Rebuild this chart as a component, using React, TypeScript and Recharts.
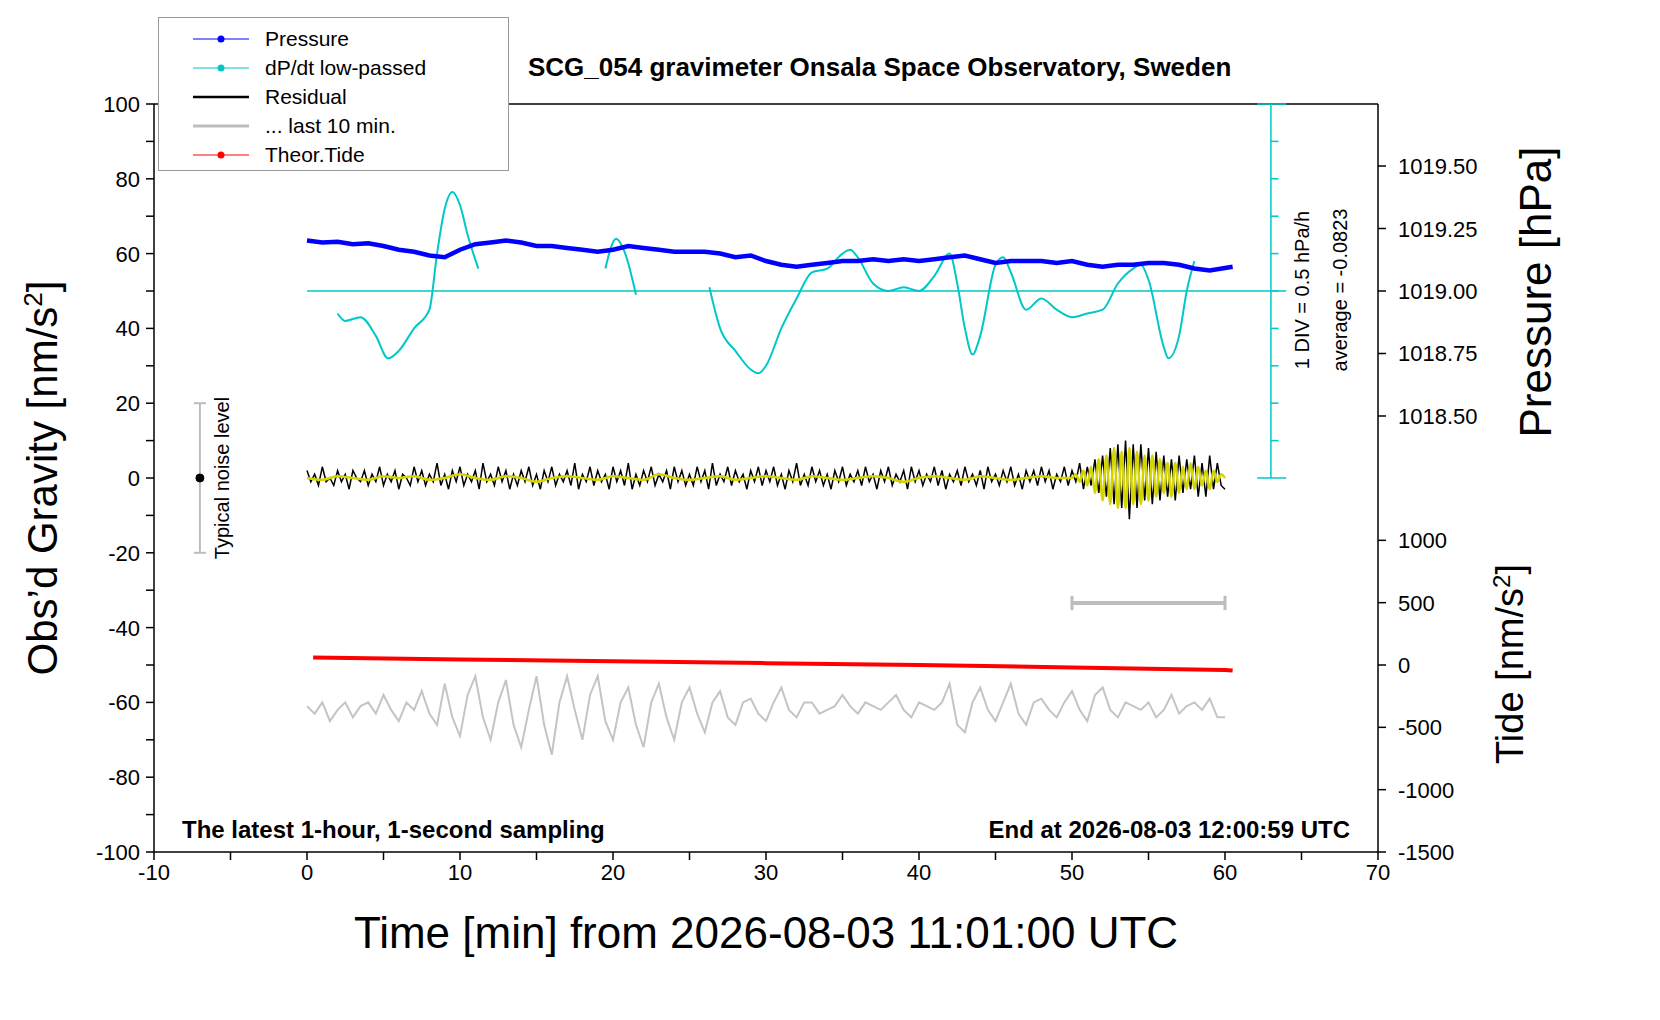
import { ComposedChart, Line, XAxis, YAxis, ReferenceLine } from "recharts";

// time axis / tick labels
const xTicks = [-10, -5, 0, 5, 10, 15, 20, 25, 30, 35, 40, 45, 50, 55, 60, 65, 70];
const gravTicks = [-100, -90, -80, -70, -60, -50, -40, -30, -20, -10, 0, 10, 20, 30, 40, 50, 60, 70, 80, 90, 100];
const pressureTicks = [1018.5, 1018.75, 1019.0, 1019.25, 1019.5];
const tideTicks = [-1500, -1000, -500, 0, 500, 1000];

// pressure [hPa], one reading per minute 0..60
const pressureHpa = [
  1019.202, 1019.194, 1019.197, 1019.187, 1019.191, 1019.18, 1019.165, 1019.157, 1019.142, 1019.135,
  1019.165, 1019.187, 1019.194, 1019.202, 1019.194, 1019.18, 1019.18, 1019.172, 1019.165, 1019.157,
  1019.165, 1019.18, 1019.172, 1019.165, 1019.157, 1019.157, 1019.157, 1019.15, 1019.135, 1019.142,
  1019.12, 1019.105, 1019.097, 1019.105, 1019.112, 1019.12, 1019.12, 1019.127, 1019.12, 1019.127,
  1019.12, 1019.127, 1019.135, 1019.142, 1019.127, 1019.112, 1019.12, 1019.12, 1019.12, 1019.112,
  1019.12, 1019.105, 1019.097, 1019.105, 1019.105, 1019.112, 1019.112, 1019.105, 1019.09, 1019.082,
  1019.097,
];

// dP/dt low-passed, plotted in gravity-axis units (baseline 50, 1 DIV = 10)
const dpdtT = [2, 2.5, 3.5, 4.5, 5.3, 6, 7, 8, 8.5, 9, 9.5, 10, 10.5, 11.2, 11.3,
  19.5, 20.2, 20.8, 21.5, 21.6,
  26.3, 27, 28, 29, 29.5, 30, 31, 32, 33, 34, 35, 35.5, 36, 37, 38, 39, 40, 41, 42, 42.5, 43, 43.5, 44, 45, 45.5, 46, 47, 48, 49, 50, 51, 52, 53, 54, 54.5, 55, 56, 56.3, 57, 57.5, 58];
const dpdtV = [44, 42, 43, 38, 32, 34, 40, 45, 60, 72, 76.5, 73, 65, 56, null,
  56, 64, 60, 49, null,
  51, 40, 34, 29, 28, 30, 40, 48, 55, 56, 60, 61, 59, 52, 50, 51, 50, 54, 60, 52, 40, 33, 38, 57, 59, 55, 45, 48, 45, 43, 44, 45, 52, 56, 57, 53, 35, 32, 38, 50, 58];

// residual [nm/s^2], every 15 s
const residual = [
  2, -1, 1, -2, 3, -1, 0, -2, 2, -1, 1, -3, 2, 0, -1, 2, -2, 1, -1, 3,
  -2, 1, -1, 2, -3, 1, 0, -2, 3, -1, 2, -2, 1, -1, 4, -2, 1, -3, 2, -1,
  3, -2, 1, -1, 2, -3, 4, -1, 1, -2, 3, -1, 2, -3, 1, -2, 2, -1, 3, -2,
  1, -3, 2, -1, 3, -2, 1, -1, 2, -2, 4, -3, 1, -1, 3, -2, 2, -1, 1, -3,
  3, -1, 2, -2, 4, -3, 1, -2, 2, -1, 3, -2, 1, -1, 2, -3, 3, -1, 2, -2,
  1, -2, 3, -1, 2, -3, 4, -2, 1, -1, 3, -2, 2, -1, 1, -3, 2, -1, 3, -2,
  2, -1, 3, -2, 1, -3, 2, -1, 4, -2, 1, -2, 3, -1, 2, -2, 1, -3, 2, -1,
  3, -2, 1, -1, 2, -2, 3, -1, 1, -3, 2, -1, 3, -2, 1, -1, 2, -3, 3, -1,
  2, -2, 1, -1, 3, -2, 2, -3, 1, -1, 2, -2, 3, -1, 1, -2, 2, -3, 3, -1,
  1, -2, 2, -1, 3, -2, 1, -3, 2, -1, 2, -2, 3, -1, 2, -3, 1, -1, 3, -2,
  2, -1, 4, -3, 3, -2, 5, -4, 6, -5, 8, -7, 9, -8, 10, -11, 9, -8, 9, -6,
  8, -7, 7, -6, 6, -5, 5, -6, 6, -4, 5, -3, 6, -5, 4, -5, 6, -3, 4, -2,
  -3,
];

// yellow smoothed residual: per minute 0..49, then every 15 s 50..60
const smoothEarly = [0, -0.5, 0.5, 0, -0.5, 0.5, 0, 0.5, -0.5, 0, 1, 0, -0.5, 0.5, 0, -1, 0, 0.5, 0, -0.5,
  0.5, 0, -0.5, 1, 0, -0.5, 0, 0.5, -0.5, 0, 0.5, 0, -0.5, 0.5, 0, -0.5, 0, 0.5, 0, -1,
  0, 0.5, 0, -0.5, 0.5, 0, -0.5, 0, 0.5, 0];
const smoothLate = [0, 1, -1, 2, -2, 3, -4, 5, -6, 6, -7, 8, -8, 7, -8, 8, -7, 7, -7, 6,
  -6, 6, -5, 5, -4, 4, -5, 4, -4, 3, -3, 4, -3, 3, -2, 2, -3, 2, -1, 1, 0];

// last 10 min of residual, stretched over the hour, every 30 s
const last10 = [
  -61, -63, -60, -65, -62, -60, -64, -61, -60, -63, -58, -62, -65, -60, -62, -57, -63, -66, -55, -64,
  -69, -58, -53, -64, -70, -60, -54, -66, -72, -62, -53, -66, -74, -60, -53, -62, -70, -58, -53, -65,
  -70, -60, -56, -66, -72, -60, -55, -64, -70, -60, -56, -63, -68, -60, -57, -64, -66, -60, -59, -63,
  -65, -60, -56, -62, -64, -60, -60, -63, -62, -61, -58, -61, -63, -60, -61, -62, -60, -58, -62, -64,
  -60, -61, -62, -60, -55, -66, -68, -60, -56, -62, -65, -60, -55, -63, -66, -60, -59, -62, -64, -60,
  -57, -62, -65, -58, -56, -62, -64, -60, -61, -62, -60, -64, -62, -58, -63, -61, -60, -62, -59, -64,
  -64,
];

// theoretical tide [nm/s^2]
const tideT = [0.4, 10, 20, 30, 40, 50, 60, 60.5];
const tideV = [60, 45, 30, 15, 0, -20, -40, -45];

// conversions to the gravity axis
const pToG = (p: number) => 50 + (p - 1019) * 66.84;
const tToG = (t: number) => -50 + t * (200 / 6000);

const pressureData = pressureHpa.map((p, i) => ({ x: i === 60 ? 60.5 : i, y: pToG(p) }));
const dpdtData = dpdtT.map((t, i) => ({ x: t, y: dpdtV[i] }));
const residualData = residual.map((v, i) => ({ x: i * 0.25, y: v }));
const smoothData = [
  ...smoothEarly.map((v, i) => ({ x: i, y: v })),
  ...smoothLate.map((v, i) => ({ x: 50 + i * 0.25, y: v })),
];
const last10Data = last10.map((v, i) => ({ x: i * 0.5, y: v }));
const tideData = tideT.map((t, i) => ({ x: t, y: tToG(tideV[i]) }));
const baseData = [{ x: 0, y: 50 }, { x: 64, y: 50 }];
const noiseBar = [{ x: -7, y: -20 }, { x: -7, y: 20 }];
const windowBar = [{ x: 50, y: -33.4 }, { x: 60, y: -33.4 }];

const rightTicks = [...pressureTicks.map(pToG), ...tideTicks.map(tToG)].sort((a, b) => a - b);
const rightLabel = (v: number) => {
  const pi = pressureTicks.findIndex((p) => Math.abs(pToG(p) - v) < 0.01);
  if (pi >= 0) return pressureTicks[pi].toFixed(2);
  const ti = tideTicks.findIndex((t) => Math.abs(tToG(t) - v) < 0.01);
  return ti >= 0 ? String(tideTicks[ti]) : "";
};

const font = "'Liberation Sans', Arial, sans-serif";
const tickFont = { fontSize: 22, fill: "#000", fontFamily: font };

const legendItems = [
  { label: "Pressure", color: "#0000ff", dot: true, w: 1 },
  { label: "dP/dt low-passed", color: "#00c8c8", dot: true, w: 1 },
  { label: "Residual", color: "#000", dot: false, w: 2.5 },
  { label: "... last 10 min.", color: "#bdbdbd", dot: false, w: 3 },
  { label: "Theor.Tide", color: "#ff0000", dot: true, w: 1 },
];

const txt = (s: React.CSSProperties): React.CSSProperties => ({ position: "absolute", fontFamily: font, color: "#000", whiteSpace: "nowrap", ...s });

export default function App() {
  return (
    <div style={{ position: "relative", width: 1560, height: 980 }}>
      <ComposedChart width={1560} height={980} margin={{ top: 96, right: 0, bottom: 0, left: 0 }}>
        <XAxis type="number" dataKey="x" domain={[-10, 70]} ticks={xTicks} allowDataOverflow interval={0}
          tick={(p: any) => p.payload.value % 10 === 0 ? (
            <text x={p.x} y={p.y + 18} textAnchor="middle" {...tickFont}>{p.payload.value}</text>) : <g />}
          tickSize={8} stroke="#000" strokeWidth={1.5} height={136} />
        <YAxis yAxisId="g" domain={[-100, 100]} ticks={gravTicks} width={146} tickSize={8} stroke="#000" strokeWidth={1.5} allowDataOverflow interval={0}
          tick={(p: any) => p.payload.value % 20 === 0 ? (
            <text x={p.x - 4} y={p.y + 8} textAnchor="end" {...tickFont}>{p.payload.value}</text>) : <g />} />
        <YAxis yAxisId="r" orientation="right" type="number" domain={[-100, 100]} ticks={rightTicks} width={190} tickSize={8} stroke="#000" strokeWidth={1.5} interval={0} allowDataOverflow
          tick={(p: any) => <text x={p.x + 10} y={p.y + 8} textAnchor="start" {...tickFont}>{rightLabel(p.payload.value)}</text>} />

        <ReferenceLine yAxisId="g" y={100} stroke="#000" strokeWidth={1.5} />
        <Line yAxisId="r" data={baseData} dataKey="y" stroke="#00c8c8" strokeWidth={1.5} dot={false} isAnimationActive={false} />
        <ReferenceLine yAxisId="g" segment={[{ x: 63, y: 0 }, { x: 63, y: 100 }]} stroke="#00c8c8" strokeWidth={1.5} />
        {[0, 10, 20, 30, 40, 50, 60, 70, 80, 90, 100].map((d) => (
          <ReferenceLine key={d} yAxisId="g" segment={[{ x: 63, y: d }, { x: d === 0 || d === 100 ? 64 : 63.5, y: d }]} stroke="#00c8c8" strokeWidth={1.5} />
        ))}
        <ReferenceLine yAxisId="g" segment={[{ x: 62.1, y: 0 }, { x: 63, y: 0 }]} stroke="#00c8c8" strokeWidth={1.5} />
        <ReferenceLine yAxisId="g" segment={[{ x: 62.1, y: 100 }, { x: 63, y: 100 }]} stroke="#00c8c8" strokeWidth={1.5} />

        <Line yAxisId="g" data={last10Data} dataKey="y" stroke="#c4c4c4" strokeWidth={2} dot={false} isAnimationActive={false} />
        <Line yAxisId="g" data={tideData} dataKey="y" stroke="#ff0000" strokeWidth={4} dot={false} isAnimationActive={false} />
        <Line yAxisId="g" data={windowBar} dataKey="y" stroke="#bdbdbd" strokeWidth={4} dot={false} isAnimationActive={false} />
        <ReferenceLine yAxisId="g" segment={[{ x: 50, y: -31.5 }, { x: 50, y: -35.3 }]} stroke="#bdbdbd" strokeWidth={3} />
        <ReferenceLine yAxisId="g" segment={[{ x: 60, y: -31.5 }, { x: 60, y: -35.3 }]} stroke="#bdbdbd" strokeWidth={3} />
        <Line yAxisId="g" data={noiseBar} dataKey="y" stroke="#bdbdbd" strokeWidth={2} dot={false} isAnimationActive={false} />
        <ReferenceLine yAxisId="g" segment={[{ x: -7.4, y: 20 }, { x: -6.6, y: 20 }]} stroke="#bdbdbd" strokeWidth={2} />
        <ReferenceLine yAxisId="g" segment={[{ x: -7.4, y: -20 }, { x: -6.6, y: -20 }]} stroke="#bdbdbd" strokeWidth={2} />
        <Line yAxisId="g" data={[{ x: -7, y: 0 }]} dataKey="y" stroke="#000" dot={{ r: 4, fill: "#000", stroke: "#000" }} isAnimationActive={false} />

        <Line yAxisId="g" data={residualData} dataKey="y" stroke="#000" strokeWidth={1.5} dot={false} isAnimationActive={false} />
        <Line yAxisId="g" data={smoothData} dataKey="y" stroke="#d4d400" strokeWidth={2.5} dot={false} type="monotone" isAnimationActive={false} />
        <Line yAxisId="g" data={dpdtData} dataKey="y" stroke="#00c8c8" strokeWidth={2} dot={false} type="monotone" connectNulls={false} isAnimationActive={false} />
        <Line yAxisId="r" data={pressureData} dataKey="y" stroke="#0000ff" strokeWidth={4.5} dot={false} isAnimationActive={false} />
      </ComposedChart>

      <div style={{ position: "absolute", left: 150, top: 9, width: 349, height: 152, border: "1.5px solid #999", background: "#fff" }}>
        {legendItems.map((it, i) => (
          <div key={i} style={{ position: "absolute", left: 0, top: 6 + i * 29, height: 29, display: "flex", alignItems: "center" }}>
            <svg width={100} height={20} style={{ marginLeft: 30 }}>
              <line x1={4} y1={10} x2={60} y2={10} stroke={it.color} strokeWidth={it.w} />
              {it.dot && <circle cx={32} cy={10} r={3.5} fill={it.color} />}
            </svg>
            <span style={{ fontFamily: font, fontSize: 21, marginLeft: -24 }}>{it.label}</span>
          </div>
        ))}
      </div>

      <div style={txt({ left: 520, top: 44, fontSize: 26, fontWeight: "bold" })}>SCG_054 gravimeter Onsala Space Observatory, Sweden</div>
      <div style={txt({ left: 174, top: 808, fontSize: 24, fontWeight: "bold" })}>The latest 1-hour, 1-second sampling</div>
      <div style={txt({ right: 1560 - 1342, top: 808, fontSize: 24, fontWeight: "bold" })}>End at 2026-08-03 12:00:59 UTC</div>
      <div style={txt({ left: 758, top: 900, fontSize: 44, transform: "translateX(-50%)" })}>Time [min] from 2026-08-03 11:01:00 UTC</div>
      <div style={txt({ left: 34, top: 470, fontSize: 42, transform: "translate(-50%,-50%) rotate(-90deg)" })}>Obs’d Gravity [nm/s<sup style={{ fontSize: 26 }}>2</sup>]</div>
      <div style={txt({ left: 1528, top: 284, fontSize: 44, transform: "translate(-50%,-50%) rotate(-90deg)" })}>Pressure [hPa]</div>
      <div style={txt({ left: 1502, top: 656, fontSize: 38, transform: "translate(-50%,-50%) rotate(-90deg)" })}>Tide [nm/s<sup style={{ fontSize: 24 }}>2</sup>]</div>
      <div style={txt({ left: 1294, top: 282, fontSize: 20, transform: "translate(-50%,-50%) rotate(-90deg)" })}>1 DIV = 0.5 hPa/h</div>
      <div style={txt({ left: 1332, top: 282, fontSize: 20, transform: "translate(-50%,-50%) rotate(-90deg)" })}>average = -0.0823</div>
      <div style={txt({ left: 214, top: 470, fontSize: 20, transform: "translate(-50%,-50%) rotate(-90deg)" })}>Typical noise level</div>
    </div>
  );
}
